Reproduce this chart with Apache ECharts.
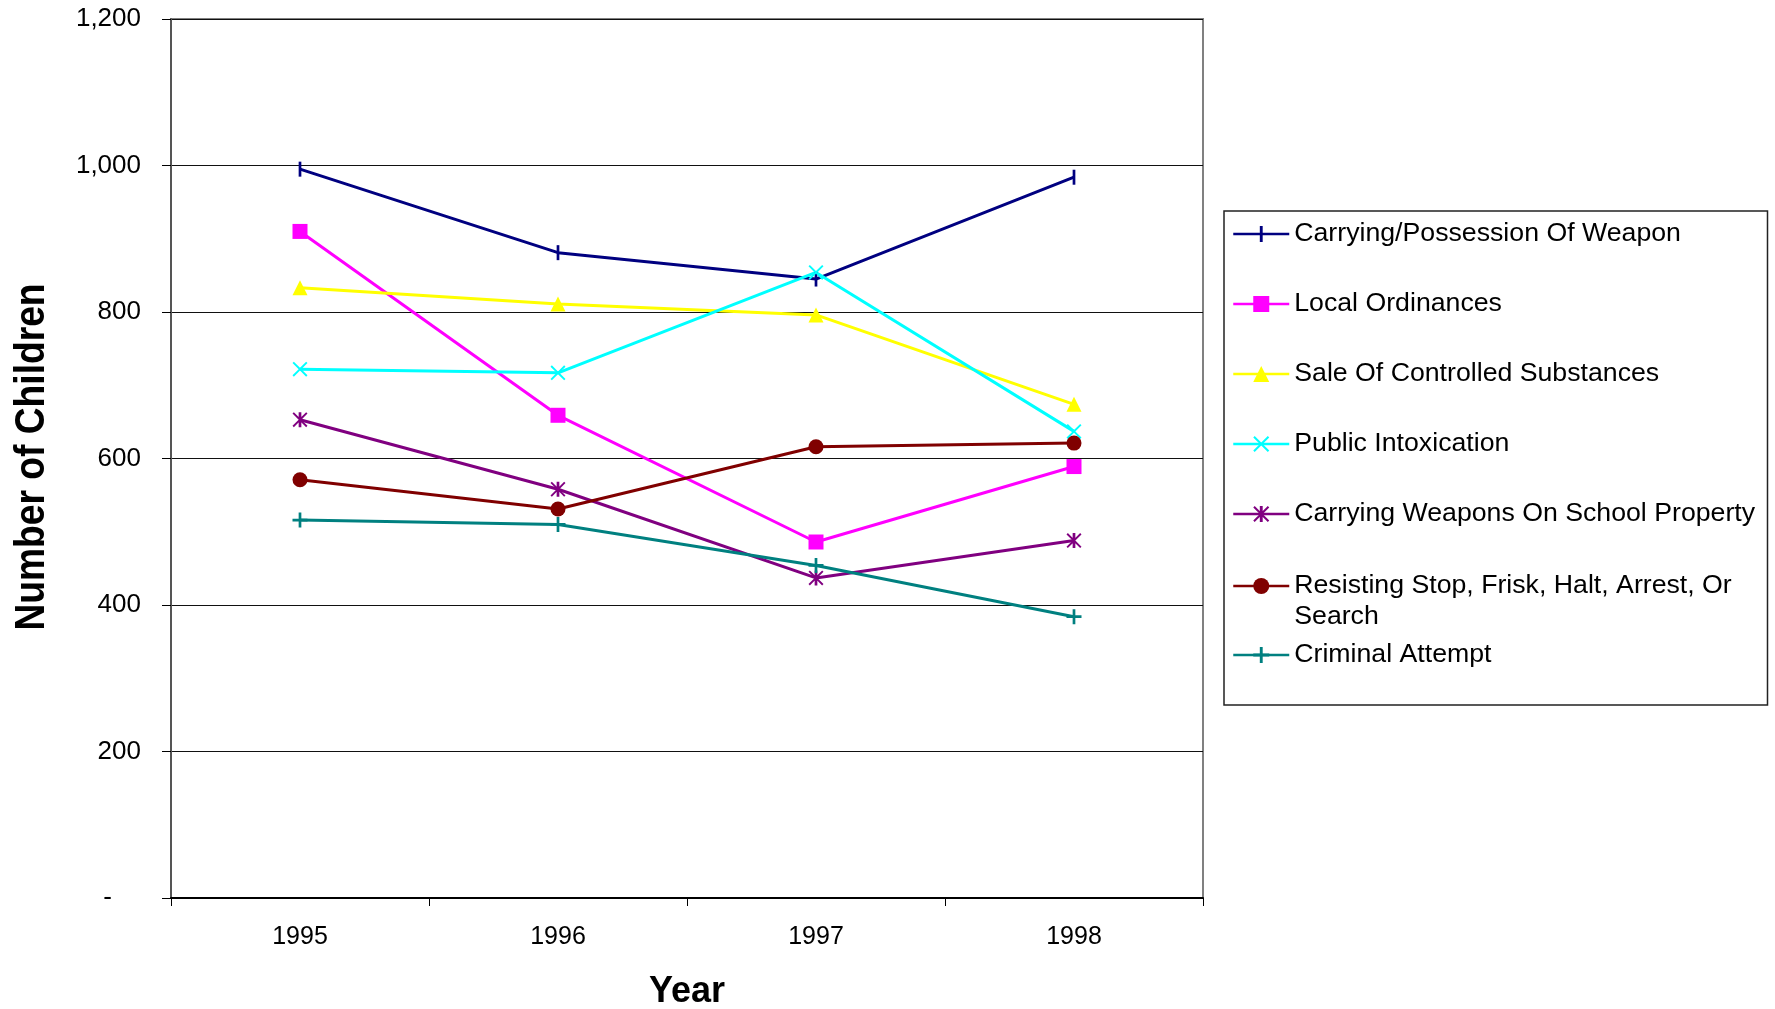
<!DOCTYPE html>
<html>
<head>
<meta charset="utf-8">
<title>Number of Children by Offense, 1995-1998</title>
<script src="https://cdn.jsdelivr.net/npm/echarts@6/dist/echarts.min.js"></script>
<style>
  html, body { margin: 0; padding: 0; background: #fff; }
  #chart { width: 1775px; height: 1009px; }
</style>
</head>
<body>
<div id="chart"></div>
<script>
// Yearly counts of children by offense type
const years = ['1995', '1996', '1997', '1998'];
const weaponPossession = [995, 881, 845, 984];
const localOrdinances = [910, 659, 486, 589];
const controlledSubstances = [833, 811, 796, 674];
const publicIntoxication = [722, 717, 854, 637];
const schoolPropertyWeapons = [653, 558, 437, 488];
const resistingStop = [571, 531, 616, 621];
const criminalAttempt = [516, 510, 454, 384];

const yTicks = { min: 0, max: 1200, step: 200 };

// Marker outlines (100x100 box; the lone move-to points keep the box square)
const BAR = 'path://M41,0 H59 V100 H41 Z M0,0 M100,100';
const PLUS = 'path://M41,0 H59 V41 H100 V59 H59 V100 H41 V59 H0 V41 H41 Z';
const CROSS = 'path://M0,9 L9,0 L50,41 L91,0 L100,9 L59,50 L100,91 L91,100 L50,59 L9,100 L0,91 L41,50 Z';
const STAR = CROSS + ' M41,0 H59 V100 H41 Z';

const seriesDefs = [
  { name: 'Carrying/Possession Of Weapon', data: weaponPossession, color: '#000080', symbol: BAR, size: 15 },
  { name: 'Local Ordinances', data: localOrdinances, color: '#FF00FF', symbol: 'rect', size: 15 },
  { name: 'Sale Of Controlled Substances', data: controlledSubstances, color: '#FFFF00', symbol: 'triangle', size: 15 },
  { name: 'Public Intoxication', data: publicIntoxication, color: '#00FFFF', symbol: CROSS, size: 15 },
  { name: 'Carrying Weapons On School Property', data: schoolPropertyWeapons, color: '#800080', symbol: STAR, size: 15 },
  { name: 'Resisting Stop, Frisk, Halt, Arrest, Or Search', data: resistingStop, color: '#800000', symbol: 'circle', size: 15 },
  { name: 'Criminal Attempt', data: criminalAttempt, color: '#008080', symbol: PLUS, size: 15 }
];

// Legend layout: row centre of each entry
const legendRowCenters = [234, 304, 374, 444, 514, 586, 655];
const LEGEND_LINE_H = 31;

const legends = seriesDefs.map((s, i) => {
  const twoLine = s.name.indexOf('Resisting') === 0;
  return {
    orient: 'vertical',
    left: 1232,
    // the wrapped entry carries an empty first line so its first text line sits on the marker
    top: twoLine ? legendRowCenters[i] - LEGEND_LINE_H * 1.5 : legendRowCenters[i] - LEGEND_LINE_H / 2,
    padding: 0,
    itemWidth: 56,
    itemHeight: 20,
    selectedMode: false,
    data: [s.name],
    formatter: twoLine ? () => '\nResisting Stop, Frisk, Halt, Arrest, Or\nSearch' : undefined,
    lineStyle: { width: 2.5 },
    textStyle: {
      fontFamily: 'Liberation Sans, Arial, sans-serif',
      fontSize: 26.7,
      color: '#000',
      lineHeight: LEGEND_LINE_H
    }
  };
});

const chart = echarts.init(document.getElementById('chart'), null, { renderer: 'canvas' });

chart.setOption({
  animation: false,
  backgroundColor: '#fff',
  grid: {
    left: 171, right: 572, top: 19, bottom: 111,
    outerBoundsMode: 'none',
    containLabel: false,
    show: true, borderColor: '#808080', borderWidth: 2, backgroundColor: 'transparent'
  },
  legend: legends,
  graphic: [
    {
      type: 'rect',
      shape: { x: 1224, y: 211, width: 543.5, height: 494 },
      style: { fill: 'none', stroke: '#222', lineWidth: 1.5 },
      silent: true
    },
    {
      // vertical axis title, set in a narrowed bold face
      type: 'text',
      x: 32, y: 457,
      rotation: Math.PI / 2,
      scaleX: 0.865,
      style: {
        text: 'Number of Children',
        font: 'bold 43px "Liberation Sans", Arial, sans-serif',
        fill: '#000',
        align: 'center',
        verticalAlign: 'middle'
      },
      silent: true
    }
  ],
  xAxis: {
    type: 'category',
    data: years,
    boundaryGap: true,
    name: 'Year',
    nameLocation: 'middle',
    nameGap: 76,
    nameTextStyle: {
      fontFamily: 'Liberation Sans, Arial, sans-serif',
      fontWeight: 'bold', fontSize: 36, color: '#000'
    },
    axisLine: { lineStyle: { color: '#000', width: 2 } },
    axisTick: { show: true, length: 8, interval: 0, lineStyle: { color: '#000', width: 1 } },
    axisLabel: {
      margin: 27, interval: 0,
      fontFamily: 'Liberation Sans, Arial, sans-serif', fontSize: 25, color: '#000'
    },
    splitLine: { show: false }
  },
  yAxis: {
    type: 'value',
    min: yTicks.min, max: yTicks.max, interval: yTicks.step,
    axisLine: { show: true, lineStyle: { color: '#555', width: 2 } },
    axisTick: { show: true, length: 9, lineStyle: { color: '#000', width: 1 } },
    axisLabel: {
      margin: 30,
      fontFamily: 'Liberation Sans, Arial, sans-serif', fontSize: 26, color: '#000',
      formatter: v => v === 0 ? '{z|-}' : v.toLocaleString('en-US'),
      rich: { z: { padding: [0, 29, 0, 0] } }
    },
    splitLine: { show: true, lineStyle: { color: '#111', width: 1 } }
  },
  series: seriesDefs.map(s => ({
    name: s.name,
    type: 'line',
    data: s.data,
    symbol: s.symbol,
    symbolSize: s.size,
    showSymbol: true,
    color: s.color,
    lineStyle: { color: s.color, width: 3 },
    itemStyle: { color: s.color, borderWidth: 0 },
    emphasis: { disabled: true },
    z: 3
  }))
});
</script>
</body>
</html>
